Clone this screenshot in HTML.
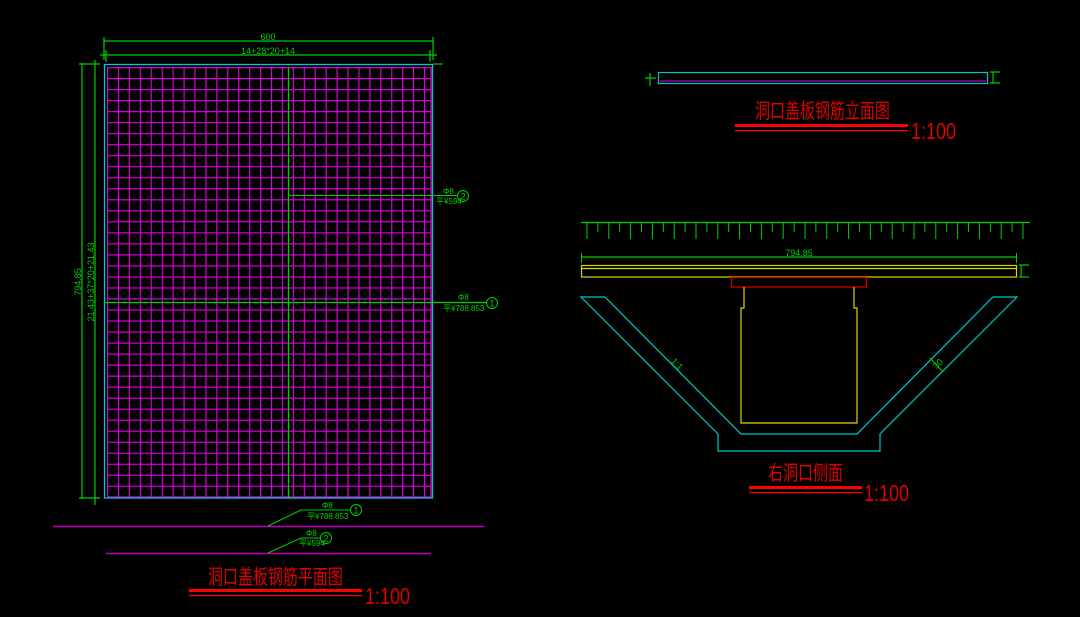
<!DOCTYPE html>
<html><head><meta charset="utf-8"><style>
html,body{margin:0;padding:0;background:#000;}
svg{display:block}
.t{font-family:"Liberation Sans","Noto Sans CJK SC",sans-serif;}
</style></head><body>
<svg width="1080" height="617" viewBox="0 0 1080 617" xmlns="http://www.w3.org/2000/svg">
<defs>
<pattern id="grid" x="107" y="67" width="10.93" height="11.02" patternUnits="userSpaceOnUse">
<line x1="0.5" y1="0" x2="0.5" y2="11.02" stroke="#e000e0" stroke-width="1.3"/>
<line x1="0" y1="0.5" x2="10.93" y2="0.5" stroke="#e000e0" stroke-width="1.3"/>
</pattern>
<pattern id="ticks" x="586" y="222" width="21.8" height="20" patternUnits="userSpaceOnUse">
<line x1="1" y1="0" x2="1" y2="17" stroke="#00d000" stroke-width="1"/>
<line x1="11.9" y1="0" x2="11.9" y2="10" stroke="#00d000" stroke-width="1"/>
</pattern>
</defs>
<rect width="1080" height="617" fill="#000"/>

<rect x="107" y="67" width="324.5" height="430" fill="url(#grid)"/>
<line x1="107" y1="497" x2="431" y2="497" stroke="#e000e0" stroke-width="1.3"/>
<line x1="431" y1="67" x2="431" y2="497" stroke="#e000e0" stroke-width="1.3"/>
<rect x="104.5" y="64.5" width="328" height="433.5" fill="none" stroke="#00c8c8" stroke-width="1.3"/>
<line x1="288.5" y1="67" x2="288.5" y2="498" stroke="#00d000" stroke-width="1.3"/>
<line x1="290" y1="195.5" x2="458" y2="195.5" stroke="#00d000" stroke-width="1"/>
<line x1="104" y1="302.5" x2="487" y2="302.5" stroke="#00d000" stroke-width="1.3"/>
<line x1="104" y1="299" x2="432" y2="299" stroke="#00d000" stroke-width="1" stroke-dasharray="2 8"/>
<circle cx="463" cy="196" r="5.5" fill="none" stroke="#00d000"/>
<text x="463" y="199.5" font-size="9" fill="#00d000" text-anchor="middle" class="t">2</text>
<circle cx="492" cy="303" r="5.5" fill="none" stroke="#00d000"/>
<text x="492" y="306.5" font-size="9" fill="#00d000" text-anchor="middle" class="t">1</text>
<text x="443" y="194" font-size="8" fill="#00d000" class="t">Φ8</text>
<text x="436" y="204" font-size="8" fill="#00d000" class="t">平¥594</text>
<text x="458" y="300" font-size="8" fill="#00d000" class="t">Φ8</text>
<text x="443" y="311" font-size="8" fill="#00d000" class="t">平¥788.853</text>

<g stroke="#00d000" stroke-width="1.2" fill="none">
<line x1="104" y1="41" x2="433" y2="41"/>
<line x1="104" y1="37" x2="104" y2="60"/>
<line x1="433" y1="37" x2="433" y2="60"/>
<line x1="100" y1="55" x2="437" y2="55"/>
<line x1="106" y1="50" x2="106" y2="62"/>
<line x1="430" y1="50" x2="430" y2="62"/>
<line x1="433" y1="64" x2="443" y2="64"/>
<line x1="82" y1="63" x2="82" y2="499"/>
<line x1="95" y1="60" x2="95" y2="505"/>
<line x1="79" y1="64" x2="100" y2="64"/>
<line x1="79" y1="498" x2="100" y2="498"/>
</g>
<text x="268" y="40" font-size="9" fill="#00d000" text-anchor="middle" class="t">600</text>
<text x="268" y="54" font-size="9" fill="#00d000" text-anchor="middle" class="t">14+28*20+14</text>
<text transform="translate(81,282) rotate(-90)" font-size="9" fill="#00d000" text-anchor="middle" class="t">794.85</text>
<text transform="translate(94,282) rotate(-90)" font-size="9" fill="#00d000" text-anchor="middle" class="t">21.43+37*20+21.43</text>

<line x1="53" y1="526.5" x2="484" y2="526.5" stroke="#c000c0" stroke-width="1.5"/>
<line x1="106" y1="553.5" x2="431" y2="553.5" stroke="#c000c0" stroke-width="1.5"/>
<polyline points="268,526 301,510 350,510" fill="none" stroke="#00d000"/>
<polyline points="268,553 301,538 320,538" fill="none" stroke="#00d000"/>
<circle cx="356" cy="510" r="5.5" fill="none" stroke="#00d000"/>
<text x="356" y="513.5" font-size="9" fill="#00d000" text-anchor="middle" class="t">1</text>
<circle cx="326" cy="538" r="5.5" fill="none" stroke="#00d000"/>
<text x="326" y="541.5" font-size="9" fill="#00d000" text-anchor="middle" class="t">2</text>
<text x="322" y="508" font-size="8" fill="#00d000" class="t">Φ8</text>
<text x="307" y="519" font-size="8" fill="#00d000" class="t">平¥788.853</text>
<text x="306" y="536" font-size="8" fill="#00d000" class="t">Φ8</text>
<text x="299" y="546" font-size="8" fill="#00d000" class="t">平¥594</text>

<text transform="translate(208,584) scale(1,1.35)" font-size="15" fill="#e00000" class="t">洞口盖板钢筋平面图</text>
<rect x="189" y="589" width="173" height="3" fill="#ff0000"/>
<rect x="189" y="595" width="173" height="1.2" fill="#ff0000"/>
<text transform="translate(365,604) scale(0.9,1.15)" font-size="20" fill="#e00000" class="t">1:100</text>

<rect x="658.5" y="72.5" width="329" height="11" fill="none" stroke="#00c8c8" stroke-width="1.2"/>
<line x1="660" y1="81" x2="986" y2="81" stroke="#c000c0" stroke-width="1.3"/>
<g stroke="#00d000" stroke-width="1.2">
<line x1="645" y1="78" x2="656" y2="78"/><line x1="650" y1="73" x2="650" y2="86"/>
<line x1="990" y1="72" x2="1000" y2="72"/><line x1="990" y1="83" x2="1000" y2="83"/><line x1="993" y1="72" x2="993" y2="83"/>
</g>
<text transform="translate(755,118) scale(1,1.35)" font-size="15" fill="#e00000" class="t">洞口盖板钢筋立面图</text>
<rect x="735" y="124" width="173" height="3" fill="#ff0000"/>
<rect x="735" y="130" width="173" height="1.2" fill="#ff0000"/>
<text transform="translate(911,139) scale(0.9,1.15)" font-size="20" fill="#e00000" class="t">1:100</text>

<line x1="581" y1="222.5" x2="1030" y2="222.5" stroke="#00d000" stroke-width="1.2"/>
<rect x="581" y="222" width="445" height="18" fill="url(#ticks)"/>
<line x1="581" y1="257" x2="1017" y2="257" stroke="#00d000" stroke-width="1.2"/>
<line x1="581.5" y1="253" x2="581.5" y2="263" stroke="#00d000"/>
<line x1="1016.5" y1="253" x2="1016.5" y2="263" stroke="#00d000"/>
<text x="799" y="256" font-size="9" fill="#00d000" text-anchor="middle" class="t">794.85</text>
<rect x="581.5" y="265.5" width="435" height="11.5" fill="none" stroke="#d8d800" stroke-width="1.2"/>
<line x1="581" y1="268.5" x2="1017" y2="268.5" stroke="#d8d800" stroke-width="1.2"/>
<g stroke="#00d000" stroke-width="1.2"><line x1="1019" y1="265" x2="1029" y2="265"/><line x1="1019" y1="277" x2="1029" y2="277"/><line x1="1021" y1="265" x2="1021" y2="277"/></g>
<rect x="731.5" y="277.5" width="135" height="9.5" fill="none" stroke="#e00000" stroke-width="1.2"/>
<polyline points="744,287 744,308 741,308 741,423 857,423 857,308 854,308 854,287" fill="none" stroke="#d8d800" stroke-width="1.2"/>
<polyline points="605,297 581,297 718,434 718,451 880,451 880,434 1017,297 993,297 857,434 741,434 605,297" fill="none" stroke="#00c8c8" stroke-width="1.2"/>
<text transform="translate(675,366) rotate(45)" font-size="9" fill="#00d000" text-anchor="middle" class="t">1:1</text>
<text transform="translate(940,366) rotate(-45)" font-size="9" fill="#00d000" text-anchor="middle" class="t">30</text>
<line x1="930" y1="358" x2="943" y2="372" stroke="#00d000"/>
<text transform="translate(768,480) scale(1,1.35)" font-size="15" fill="#e00000" class="t">右洞口侧面</text>
<rect x="749" y="486" width="113" height="3" fill="#ff0000"/>
<rect x="749" y="492" width="113" height="1.2" fill="#ff0000"/>
<text transform="translate(864,501) scale(0.9,1.15)" font-size="20" fill="#e00000" class="t">1:100</text>
</svg>
</body></html>
